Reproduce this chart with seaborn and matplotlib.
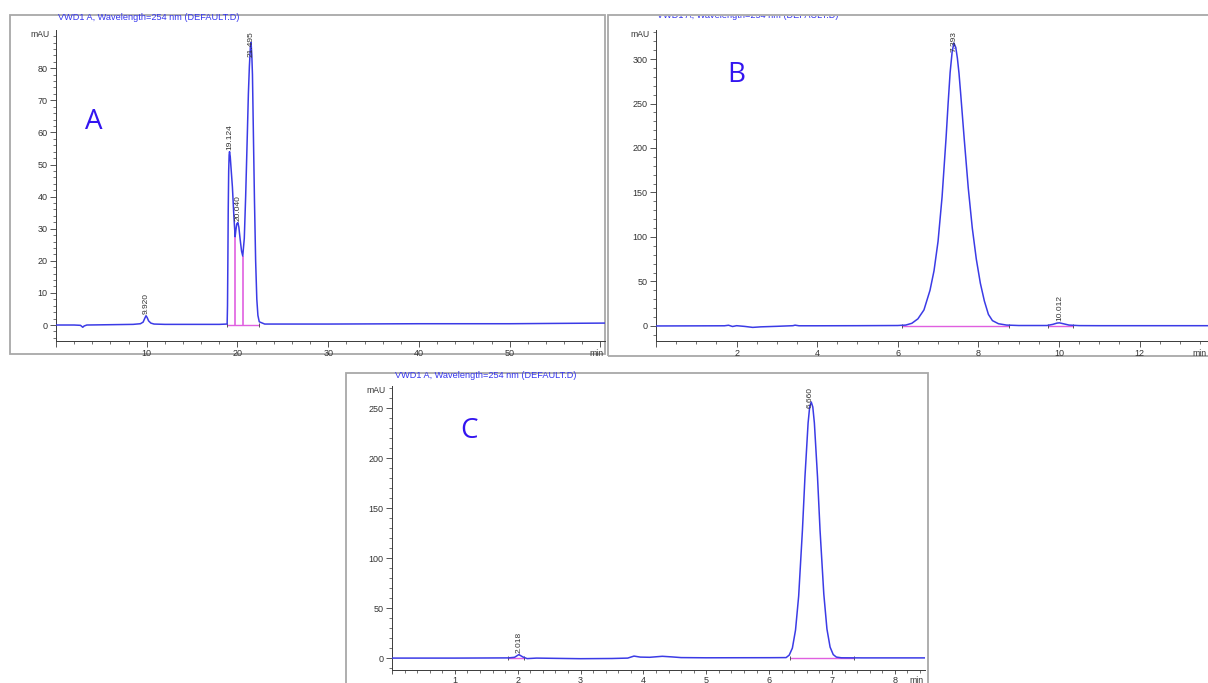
import numpy as np
import matplotlib
matplotlib.use("Agg")
import matplotlib.pyplot as plt
import seaborn as sns
from matplotlib.patches import Rectangle
from matplotlib.ticker import MultipleLocator, FixedLocator, FuncFormatter
from matplotlib.transforms import Bbox, TransformedBbox

# ---------------- data ----------------
title_text = "VWD1 A, Wavelength=254 nm (DEFAULT.D)"
panel_letters = ["A", "B", "C"]

# Panel A chromatogram (min, mAU)
a_time = [0.0, 2.0, 2.7, 2.95, 3.1, 3.4, 6.0, 8.5, 9.3, 9.6, 9.8, 9.92, 10.05, 10.2,
          10.45, 10.8, 12.0, 18.0, 18.86, 18.9, 18.94, 18.98, 19.03, 19.08, 19.124,
          19.2, 19.3, 19.44, 19.6, 19.74, 19.82, 19.92, 20.04, 20.15, 20.3, 20.45, 20.58,
          20.75, 20.9, 21.09, 21.2, 21.31, 21.42, 21.495, 21.58, 21.65, 21.75, 21.87, 22.0,
          22.13, 22.25, 22.4, 23.0, 30.0, 40.0, 50.0, 55.0, 60.5]
a_mau = [0.0, 0.0, -0.1, -0.7, -0.3, 0.0, 0.1, 0.2, 0.4, 0.9, 2.2, 2.9, 2.3, 1.3,
         0.6, 0.3, 0.2, 0.2, 0.3, 6.0, 20.0, 36.0, 48.0, 53.0, 54.0,
         52.5, 48.5, 43.0, 34.0, 27.5, 29.5, 31.5, 31.9, 30.5, 26.5, 23.0, 21.5,
         27.0, 40.0, 60.0, 72.0, 80.5, 86.5, 88.0, 84.0, 78.0, 60.0, 39.0, 20.0,
         8.0, 3.0, 1.0, 0.3, 0.3, 0.4, 0.4, 0.5, 0.6]
a_peak_rt = [9.920, 19.124, 20.040, 21.495]
a_peak_mau = [2.9, 54.0, 31.9, 88.0]
a_peak_labels = ["9.920", "19.124", "20.040", "21.495"]
a_base_start = [18.88]
a_base_end = [22.35]
a_drop_rt = [19.74, 20.58]

# Panel B chromatogram
b_time = [0.0, 1.7, 1.8, 1.9, 2.0, 2.2, 2.4, 2.6, 3.0, 3.4, 3.45, 3.55, 4.0, 5.0,
          6.0, 6.2, 6.35, 6.5, 6.65, 6.8, 6.9, 7.0, 7.1, 7.2, 7.25, 7.3, 7.35, 7.393,
          7.44, 7.48, 7.52, 7.56, 7.65, 7.75, 7.85, 7.95, 8.05, 8.15, 8.25, 8.35, 8.5,
          8.7, 9.0, 9.7, 9.85, 9.95, 10.012, 10.1, 10.25, 10.5, 11.0, 12.0, 13.7]
b_mau = [0.0, 0.2, 0.8, -0.6, 0.3, -0.5, -1.6, -1.0, -0.4, 0.3, 0.9, 0.2, 0.2, 0.3,
         0.5, 1.0, 3.0, 8.0, 18.0, 40.0, 62.0, 95.0, 145.0, 212.0, 250.0, 285.0, 308.0,
         318.0, 313.0, 301.0, 284.0, 262.0, 210.0, 155.0, 110.0, 75.0, 48.0, 28.0, 13.0,
         6.0, 2.5, 1.0, 0.5, 0.5, 1.8, 3.2, 3.5, 2.6, 1.0, 0.4, 0.3, 0.3, 0.3]
b_peak_rt = [7.393, 10.012]
b_peak_mau = [319.0, 3.5]
b_peak_labels = ["7.393", "10.012"]
b_base_start = [6.1, 9.72]
b_base_end = [8.75, 10.35]

# Panel C chromatogram
c_time = [0.0, 1.0, 1.85, 1.95, 2.018, 2.08, 2.15, 2.3, 3.0, 3.5, 3.75, 3.85, 3.95,
          4.1, 4.3, 4.45, 4.6, 5.0, 6.0, 6.27, 6.32, 6.37, 6.42, 6.47, 6.53, 6.57,
          6.62, 6.645, 6.67, 6.695, 6.72, 6.77, 6.81, 6.87, 6.92, 6.97, 7.02, 7.07,
          7.15, 7.5, 8.48]
c_mau = [0.0, 0.0, 0.2, 0.8, 3.5, 1.2, -0.5, 0.0, -0.6, -0.4, 0.0, 2.0, 1.0,
         0.8, 1.8, 1.2, 0.5, 0.3, 0.4, 0.5, 3.0, 10.0, 28.0, 62.0, 128.0, 181.0,
         235.0, 251.0, 256.0, 251.0, 235.0, 181.0, 128.0, 64.0, 29.0, 11.0, 3.5, 1.0,
         0.3, 0.2, 0.2]
c_peak_rt = [2.018, 6.660]
c_peak_mau = [3.5, 256.0]
c_peak_labels = ["2.018", "6.660"]
c_base_start = [1.85, 6.33]
c_base_end = [2.1, 7.35]

# ---------------- style ----------------
sns.set_theme(style="ticks")
plt.rcParams["font.family"] = ["Liberation Sans", "DejaVu Sans"]

W, H = 1208, 683
fig = plt.figure(figsize=(W / 100, H / 100), dpi=100)
fig.patch.set_facecolor("white")

TRACE = "#3b3be6"
MAGENTA = "#e060e0"
TITLE_C = "#3535ee"
LETTER_C = "#3315f0"
AX_C = "#3a3a3a"


def px_rect(x0, y0, x1, y1):
    """figure-fraction rect from pixel box (top-left origin)."""
    return [x0 / W, 1 - y1 / H, (x1 - x0) / W, (y1 - y0) / H]


def frame(x0, y0, x1, y1):
    r = Rectangle((x0 / W, 1 - y1 / H), (x1 - x0) / W, (y1 - y0) / H,
                  transform=fig.transFigure, fill=False, ec="#a8a8a8", lw=1.3,
                  zorder=0)
    fig.add_artist(r)


def setup_panel(rect, xlim, ylim, xmaj, xmin, ymaj, ymin, yticks_max, xticks_max,
                xtick_len=4, xpad=2):
    ax = fig.add_axes(rect)
    ax.set_facecolor("none")
    ax.set_xlim(*xlim)
    ax.set_ylim(*ylim)
    for s in ["top", "right"]:
        ax.spines[s].set_visible(False)
    for s in ["left", "bottom"]:
        ax.spines[s].set_color(AX_C)
        ax.spines[s].set_linewidth(0.7)
    ax.yaxis.set_major_locator(FixedLocator(np.arange(0, yticks_max + 1e-9, ymaj)))
    ax.yaxis.set_minor_locator(MultipleLocator(ymin))
    ax.xaxis.set_major_locator(FixedLocator(np.arange(0, xticks_max + 1e-9, xmaj)))
    ax.xaxis.set_minor_locator(MultipleLocator(xmin))
    ax.xaxis.set_major_formatter(FuncFormatter(
        lambda v, p: "" if v < 1e-9 or v > xlim[1] - 0.3 * xmaj else f"{v:g}"))
    ax.tick_params(which="major", length=4, width=0.6, color=AX_C,
                   labelsize=6.5, labelcolor="#333333", pad=2)
    ax.tick_params(axis="x", which="major", length=xtick_len, pad=xpad)
    ax.tick_params(which="minor", length=2.2, width=0.5, color=AX_C)
    ax.set_xlabel("")
    ax.set_ylabel("")
    ax.annotate("mAU", xy=(0, 1), xycoords="axes fraction", xytext=(-5, -3),
                textcoords="offset points", ha="right", va="center",
                fontsize=6.2, color="#333333")
    ax.annotate("min", xy=(1, 0), xycoords="axes fraction",
                xytext=(-1, -(xtick_len + xpad)), textcoords="offset points",
                ha="right", va="top", fontsize=6.2, color="#333333",
                annotation_clip=False)
    return ax


def draw_trace(ax, t, y, rts, hs, labels, bstart, bend, drops=None):
    # integration baselines
    for s, e in zip(bstart, bend):
        ax.plot([s, e], [0, 0], color=MAGENTA, lw=1.0, zorder=2)
        ax.plot([s, e], [0, 0], ls="none", marker="|", ms=3.5, mew=0.7,
                color="#555555", zorder=2)
    if drops:
        ax.vlines(drops, 0, np.interp(drops, t, y), color=MAGENTA, lw=1.2, zorder=2)
    sns.lineplot(x=t, y=y, ax=ax, sort=False, estimator=None, color=TRACE,
                 lw=1.1, zorder=3)
    ytop = ax.get_ylim()[1]
    for rt, h, lab in zip(rts, hs, labels):
        if h > 0.8 * ytop:
            ax.annotate(lab, xy=(rt, ytop), xytext=(0, -1), textcoords="offset points",
                        rotation=90, ha="center", va="top", fontsize=6,
                        color="#333333", zorder=4)
        else:
            ax.annotate(lab, xy=(rt, h), xytext=(0, 1.5), textcoords="offset points",
                        rotation=90, ha="center", va="bottom", fontsize=6,
                        color="#333333", zorder=4)
    ax.set_xlabel("")
    ax.set_ylabel("")


# ---------------- panel frames ----------------
frame(10, 15, 605, 354)
frame(608, 15, 1212, 356)
frame(346, 373, 928, 690)

# ---------------- Panel A ----------------
axA = setup_panel(px_rect(56, 30, 605, 341), (0, 60.5), (-4.98, 91.9),
                  10, 2, 10, 2, 80, 60)
draw_trace(axA, a_time, a_mau, a_peak_rt, a_peak_mau, a_peak_labels,
           a_base_start, a_base_end, a_drop_rt)

# ---------------- Panel B ----------------
axB = setup_panel(px_rect(656, 30, 1208, 341), (0, 13.7), (-16.9, 332.6),
                  2, 0.5, 50, 10, 300, 14)
draw_trace(axB, b_time, b_mau, b_peak_rt, b_peak_mau, b_peak_labels,
           b_base_start, b_base_end)

# ---------------- Panel C ----------------
axC = setup_panel(px_rect(392, 386, 925, 670), (0, 8.48), (-11.9, 272.0),
                  1, 0.2, 50, 10, 250, 9, xtick_len=3, xpad=1)
draw_trace(axC, c_time, c_mau, c_peak_rt, c_peak_mau, c_peak_labels,
           c_base_start, c_base_end)

# ---------------- titles & panel letters ----------------
fig.text(58 / W, 1 - 18 / H, title_text, ha="left", va="center",
         fontsize=6.6, color=TITLE_C)
tB = fig.text(657 / W, 1 - 16 / H, title_text, ha="left", va="center",
              fontsize=6.6, color=TITLE_C)
tB.set_clip_box(TransformedBbox(Bbox([[0, 0], [1, 1 - 15.5 / H]]), fig.transFigure))
tB.set_clip_on(True)
fig.text(395 / W, 1 - 376 / H, title_text, ha="left", va="center",
         fontsize=6.6, color=TITLE_C)

for letter, (cx, cy) in zip(panel_letters, [(93.5, 122), (736.5, 75.5), (468.7, 431)]):
    fig.text(cx / W, 1 - cy / H, letter, ha="center", va="center",
             fontsize=20, color=LETTER_C, family=["Open Sans", "DejaVu Sans"])

fig.savefig("out.png", dpi=100, facecolor="white")
